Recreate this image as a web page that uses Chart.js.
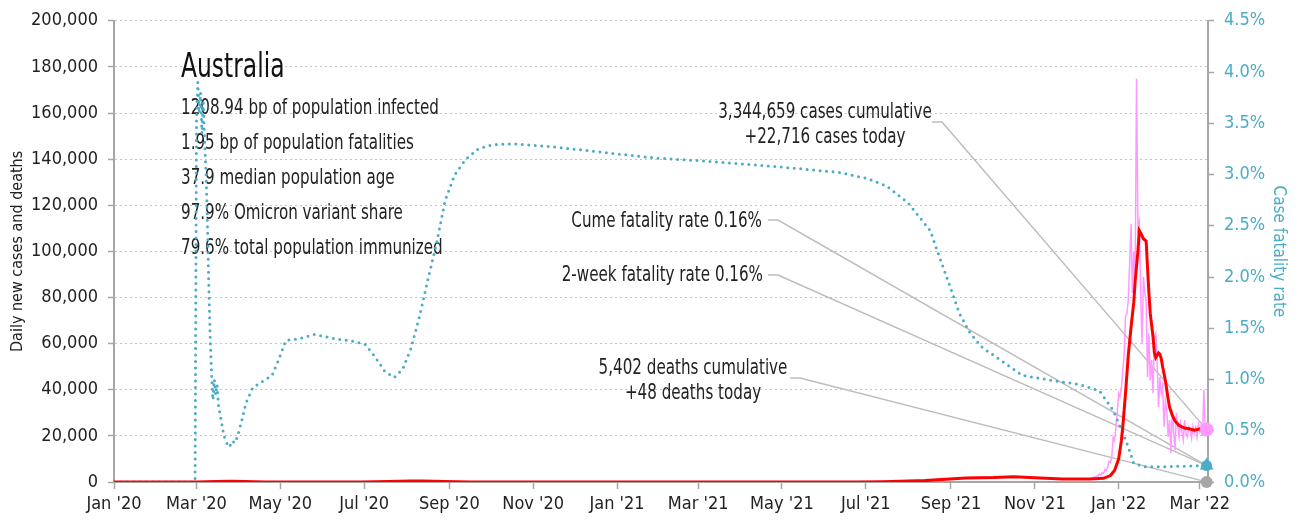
<!DOCTYPE html>
<html>
<head>
  <title>Australia - daily cases and case fatality rate</title>
  <style>
    body {
      margin: 0;
      background: #fff;
    }
  </style>
</head>
<body>
  <canvas id="chart" width="1299" height="520"></canvas>

  <script src="https://cdn.jsdelivr.net/npm/chart.js"></script>
  <script>
    // x values are days since 1 Jan 2020
    const monthDays = [0, 60, 121, 182, 244, 305, 366, 425, 486, 547, 609, 670, 731, 790];
    const monthLabels = ["Jan '20", "Mar '20", "May '20", "Jul '20", "Sep '20", "Nov '20", "Jan '21",
      "Mar '21", "May '21", "Jul '21", "Sep '21", "Nov '21", "Jan '22", "Mar '22"];

    // case fatality rate, %
    const cfrDays = [0, 59, 60, 61, 62, 63, 64, 65, 66, 67, 68, 69, 70, 71, 72, 73, 74, 75, 76, 78, 80, 82, 84,
      86, 88, 90, 93, 96, 101, 110, 115, 120, 125, 135, 146, 160, 175, 183, 190, 197, 204, 210, 216, 222,
      228, 235, 241, 248, 256, 265, 275, 290, 320, 360, 395, 432, 480, 528, 548, 562, 578, 594, 601, 608,
      615, 623, 632, 645, 661, 683, 703, 717, 727, 734, 738, 742, 750, 765, 795];
    const cfrPct = [0, 0, 3.5, 3.9, 3.6, 3.8, 3.4, 3.7, 3.3, 3.0, 2.5, 1.9, 1.4, 1.05, 0.8, 1.0, 0.85, 0.95, 0.75,
      0.6, 0.45, 0.38, 0.34, 0.4, 0.38, 0.45, 0.6, 0.77, 0.92, 1.0, 1.04, 1.2, 1.38, 1.4, 1.44, 1.4, 1.37,
      1.34, 1.22, 1.08, 1.02, 1.1, 1.3, 1.6, 1.95, 2.35, 2.75, 3.0, 3.15, 3.25, 3.29, 3.3, 3.27, 3.21, 3.16,
      3.13, 3.08, 3.02, 2.96, 2.89, 2.72, 2.45, 2.18, 1.92, 1.65, 1.45, 1.31, 1.19, 1.04, 0.99, 0.95, 0.89,
      0.7, 0.48, 0.34, 0.18, 0.15, 0.15, 0.16];

    // 7-day average of new cases
    const avgDays = [0, 60, 75, 85, 95, 110, 150, 180, 200, 215, 225, 240, 260, 300, 400, 540, 560, 590, 605,
      620, 640, 655, 670, 690, 710, 720, 725, 728, 731, 733, 734, 736, 738, 740, 742, 743, 745, 746, 747, 749,
      751, 752, 753, 754, 756, 757, 758, 760, 761, 762, 763, 765, 767, 768, 770, 772, 775, 779, 783, 786, 790,
      793, 795];
    const avgCases = [0, 0, 250, 350, 250, 50, 0, 30, 200, 450, 400, 200, 30, 10, 5, 10, 100, 600, 1200, 1700,
      1900, 2300, 1800, 1300, 1250, 1600, 2800, 5000, 10000, 18000, 24000, 38500, 55000, 67000, 78000, 87000,
      100000, 109000, 108000, 105500, 104500, 93000, 82000, 73000, 63000, 56000, 54000, 56000, 55500, 53500,
      50000, 44000, 36000, 32500, 29000, 26500, 24500, 23400, 23000, 22500, 23000, 23200, 23000];

    // daily new cases
    const dailyDays = [0, 60, 75, 85, 95, 110, 150, 200, 215, 225, 240, 260, 300, 540, 590, 620, 652, 690, 710,
      715, 716, 717, 718, 719, 720, 721, 722, 723, 724, 725, 726, 727, 728, 729, 730, 731, 732, 733, 734, 735,
      736, 737, 738, 739, 740, 741, 742, 743, 744, 745, 746, 747, 748, 749, 750, 751, 752, 753, 754, 755, 756,
      757, 758, 759, 760, 761, 762, 763, 764, 765, 766, 767, 768, 769, 770, 771, 772, 773, 774, 775, 776, 777,
      778, 779, 780, 781, 782, 783, 784, 785, 786, 787, 788, 789, 790, 791, 792, 793, 794, 795];
    const dailyCases = [0, 0, 300, 400, 200, 40, 0, 250, 500, 380, 150, 20, 10, 20, 700, 1800, 2400, 1200, 1300,
      2500, 2700, 3500, 3000, 4000, 3800, 5500, 5000, 6500, 9000, 8500, 11000, 19500, 18000, 24000, 30000,
      38500, 37000, 41000, 48000, 55000, 72000, 73000, 79000, 95000, 112000, 82000, 100000, 89000, 175000,
      110000, 113000, 82000, 60000, 89000, 82000, 78000, 45500, 64500, 44000, 53000, 38500, 62800, 64500,
      52000, 32500, 45500, 38500, 42000, 24000, 35000, 31000, 19500, 27000, 12500, 31000, 22000, 13800,
      30000, 24000, 19500, 25500, 22000, 18200, 26800, 21000, 19500, 24000, 23000, 19000, 24000, 21000,
      23500, 19500, 25000, 22000, 24500, 20000, 40000, 21000, 22716];

    const lastDay = 795;
    const casesToday = 22716;
    const deathsToday = 48;
    const cumeCfr = 0.16;
    const twoWeekCfr = 0.16;

    const country = 'Australia';
    const stats = [
      '1208.94 bp of population infected',
      '1.95 bp of population fatalities',
      '37.9 median population age',
      '97.9% Omicron variant share',
      '79.6% total population immunized'
    ];

    const FONT = "'DejaVu Sans Condensed', 'Liberation Sans Narrow', sans-serif";
    const TEAL = '#4bacc6';
    const PINK = '#ff99ff';
    const AXIS = '#a6a6a6';
    const NARROW = 0.765; // horizontal squeeze for the drawn notes

    const pairs = (xs, ys) => xs.map((d, i) => ({ x: d, y: ys[i] }));

    function squeezedText(ctx, text, x, y, align) {
      ctx.save();
      ctx.translate(x, y);
      ctx.scale(NARROW, 1);
      ctx.textAlign = align;
      ctx.fillText(text, 0, 0);
      ctx.restore();
    }

    // text block and callout lines, drawn under the data
    const notes = {
      id: 'notes',
      beforeDatasetsDraw(chart) {
        const ctx = chart.ctx;
        const sx = chart.scales.x, yl = chart.scales.y, yr = chart.scales.y2;
        const endX = sx.getPixelForValue(lastDay);
        ctx.save();
        ctx.textBaseline = 'middle';
        ctx.fillStyle = '#111';
        ctx.font = `34px ${FONT}`;
        squeezedText(ctx, country, 181, 68, 'left');
        ctx.font = `22px ${FONT}`;
        ctx.fillStyle = '#222';
        stats.forEach((s, i) => squeezedText(ctx, s, 181, 108 + i * 35, 'left'));

        const callouts = [
          { lines: ['3,344,659 cases cumulative', '+22,716 cases today'], align: 'center', x: 825, y: 112,
            from: [932, 122], to: [endX, yl.getPixelForValue(casesToday)] },
          { lines: ['Cume fatality rate 0.16%'], align: 'right', x: 762, y: 221,
            from: [768, 220], to: [endX, yr.getPixelForValue(cumeCfr)] },
          { lines: ['2-week fatality rate 0.16%'], align: 'right', x: 763, y: 275,
            from: [768, 275], to: [endX, yr.getPixelForValue(twoWeekCfr)] },
          { lines: ['5,402 deaths cumulative', '+48 deaths today'], align: 'center', x: 693, y: 368,
            from: [790, 378], to: [endX, yl.getPixelForValue(deathsToday)] }
        ];
        callouts.forEach(c => {
          ctx.strokeStyle = '#bdbdbd';
          ctx.lineWidth = 1.5;
          ctx.beginPath();
          ctx.moveTo(c.from[0], c.from[1]);
          ctx.lineTo(c.from[0] + 10, c.from[1]);
          ctx.lineTo(c.to[0], c.to[1]);
          ctx.stroke();
          c.lines.forEach((t, i) => squeezedText(ctx, t, c.x, c.y + i * 25, c.align));
        });
        ctx.restore();
      }
    };

    const ctx = document.getElementById('chart').getContext('2d');
    new Chart(ctx, {
      type: 'line',
      data: {
        datasets: [
          {
            label: 'Daily new cases',
            data: pairs(dailyDays, dailyCases),
            borderColor: PINK,
            borderWidth: 1.5,
            pointRadius: 0,
            yAxisID: 'y',
            order: 5
          },
          {
            label: 'Case fatality rate',
            data: pairs(cfrDays, cfrPct),
            borderColor: TEAL,
            borderWidth: 3,
            borderDash: [0, 6.5],
            borderCapStyle: 'round',
            pointRadius: 0,
            yAxisID: 'y2',
            order: 4
          },
          {
            label: '7-day average cases',
            data: pairs(avgDays, avgCases),
            borderColor: '#ff0000',
            borderWidth: 3,
            pointRadius: 0,
            yAxisID: 'y',
            order: 3
          },
          {
            label: 'Cases today',
            data: [{ x: lastDay, y: casesToday }],
            pointRadius: 7,
            pointBackgroundColor: PINK,
            pointBorderWidth: 0,
            showLine: false,
            clip: false,
            yAxisID: 'y',
            order: 1
          },
          {
            label: '2-week fatality rate',
            data: [{ x: lastDay, y: twoWeekCfr }],
            pointStyle: 'triangle',
            pointRadius: 8,
            pointBackgroundColor: TEAL,
            pointBorderWidth: 0,
            showLine: false,
            clip: false,
            yAxisID: 'y2',
            order: 1
          },
          {
            label: 'Cume fatality rate',
            data: [{ x: lastDay, y: cumeCfr }],
            pointRadius: 5.5,
            pointBackgroundColor: TEAL,
            pointBorderWidth: 0,
            showLine: false,
            clip: false,
            yAxisID: 'y2',
            order: 1
          },
          {
            label: 'Deaths today',
            data: [{ x: lastDay, y: deathsToday }],
            pointRadius: 6,
            pointBackgroundColor: AXIS,
            pointBorderWidth: 0,
            showLine: false,
            clip: false,
            yAxisID: 'y',
            order: 1
          }
        ]
      },
      options: {
        responsive: false,
        animation: false,
        layout: { padding: { top: 20, left: 0, right: 0, bottom: 0 } },
        plugins: {
          legend: { display: false },
          tooltip: { enabled: false }
        },
        scales: {
          x: {
            type: 'linear',
            min: 0,
            max: 796,
            afterBuildTicks: axis => { axis.ticks = monthDays.map(v => ({ value: v })); },
            afterFit: axis => { axis.height = 38; },
            ticks: {
              autoSkip: false,
              maxRotation: 0,
              padding: 5,
              color: '#222',
              font: { family: FONT, size: 18 },
              callback: (v, i) => monthLabels[i]
            },
            grid: { drawOnChartArea: false, drawTicks: true, tickLength: 7, tickColor: AXIS, tickWidth: 1.5 },
            border: { display: true, color: AXIS, width: 2 }
          },
          y: {
            position: 'left',
            min: 0,
            max: 200000,
            afterFit: axis => { axis.width = 114; },
            ticks: {
              stepSize: 20000,
              padding: 10,
              color: '#222',
              font: { family: FONT, size: 18 },
              callback: v => v.toLocaleString('en-US')
            },
            grid: { color: '#c4c4c4', lineWidth: 1, tickLength: 6, tickColor: AXIS, tickWidth: 1.5 },
            border: { display: true, color: AXIS, width: 2, dash: [2, 3] },
            title: {
              display: true,
              text: 'Daily new cases and deaths',
              color: '#222',
              font: { family: FONT, size: 16 },
              padding: { top: 8, bottom: 0 }
            }
          },
          y2: {
            position: 'right',
            min: 0,
            max: 4.5,
            afterFit: axis => { axis.width = 91; },
            ticks: {
              stepSize: 0.5,
              padding: 10,
              color: TEAL,
              font: { family: FONT, size: 18 },
              callback: v => v.toFixed(1) + '%'
            },
            grid: { drawOnChartArea: false, tickLength: 6, tickColor: AXIS, tickWidth: 1.5 },
            border: { display: true, color: AXIS, width: 2 },
            title: {
              display: true,
              text: 'Case fatality rate',
              color: TEAL,
              font: { family: FONT, size: 17 },
              padding: { top: 10, bottom: 0 }
            }
          }
        }
      },
      plugins: [notes]
    });
  </script>
</body>
</html>
